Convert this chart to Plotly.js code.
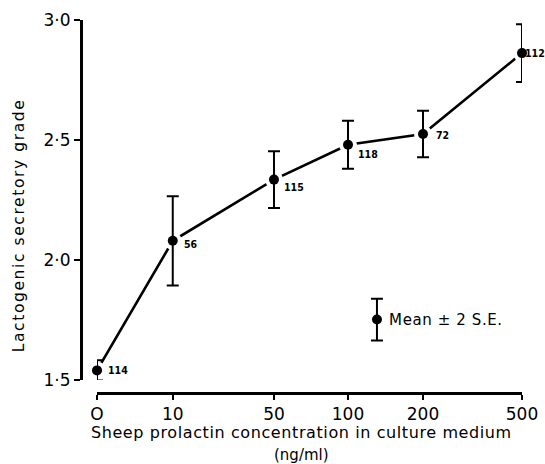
<!DOCTYPE html>
<html>
<head>
<meta charset="utf-8">
<script src="https://cdn.plot.ly/plotly-3.0.1.min.js"></script>
<style>
html,body{margin:0;padding:0;background:#fff}
#chart{width:545px;height:464px}
</style>
</head>
<body>
<div id="chart"></div>
<script>
// Data
const concLabels = ["O", "10", "50", "100", "200", "500"];      // ng/ml categories
const xSlot = [0, 1.01, 2.36, 3.347, 4.347, 5.667];              // irregular slot spacing of the drawn axis
const meanGrade = [1.54, 2.08, 2.335, 2.48, 2.525, 2.862];
const twoSE = [0.042, 0.186, 0.118, 0.1, 0.097, 0.12];
const nLabels = ["114", "56", "115", "118", "72", "112"];
const labelDx = [10, 10, 9, 9, 12, 2];
const labelDy = [0, -3, -7, -9, -1, 0];
const yTickVals = [1.5, 2.0, 2.5, 3.0];
const yTickText = ["1·5", "2·0", "2·5", "3·0"];
const keyX = [3.733];
const keyY = [1.752];
const keyErr = [0.087];

const FONT = "DejaVu Sans, Arial, sans-serif";
const COND = "DejaVu Sans Condensed, DejaVu Sans, Arial, sans-serif";
const traces = [
  {x: xSlot, y: meanGrade, mode: "lines", line: {color: "#000", width: 2.6}, hoverinfo: "skip", showlegend: false, cliponaxis: false},
  {x: xSlot, y: meanGrade, mode: "markers", marker: {color: "#fff", size: 18}, hoverinfo: "skip", showlegend: false, cliponaxis: false},
  {x: xSlot, y: meanGrade, mode: "markers", marker: {color: "#000", size: 10},
   error_y: {type: "data", array: twoSE, visible: true, color: "#000", thickness: 2, width: 6},
   showlegend: false, cliponaxis: false},
  {x: keyX, y: keyY, mode: "markers", marker: {color: "#000", size: 10},
   error_y: {type: "data", array: keyErr, visible: true, color: "#000", thickness: 2, width: 6},
   showlegend: false, cliponaxis: false}
];

const annotations = nLabels.map((t, i) => ({
  x: xSlot[i], y: meanGrade[i], xref: "x", yref: "y", text: t, showarrow: false,
  xanchor: "left", yanchor: "middle", xshift: labelDx[i], yshift: labelDy[i], borderpad: 0,
  font: {family: COND, size: 10.5, color: "#000", weight: "bold"}
}));
annotations.push(
  {x: keyX[0], y: keyY[0], xref: "x", yref: "y", text: "Mean ± 2 S.E.", showarrow: false,
   xanchor: "left", yanchor: "middle", xshift: 14, font: {family: FONT, size: 15}},
  {x: 0.501, y: -0.1046, xref: "paper", yref: "paper", text: "Sheep prolactin concentration in culture medium",
   showarrow: false, xanchor: "center", yanchor: "middle", font: {family: FONT, size: 16}},
  {x: 0.501, y: -0.166, xref: "paper", yref: "paper", text: "(ng/ml)",
   showarrow: false, xanchor: "center", yanchor: "middle", font: {family: FONT, size: 15}},
  {x: -0.1396, y: 0.4504, xref: "paper", yref: "paper", text: "Lactogenic secretory grade", textangle: -90,
   showarrow: false, xanchor: "center", yanchor: "middle", font: {family: FONT, size: 15.5}}
);

const layout = {
  width: 545, height: 464,
  margin: {l: 81, r: 23, t: 20, b: 71, pad: 0},
  paper_bgcolor: "#fff", plot_bgcolor: "#fff",
  font: {family: FONT, color: "#000"},
  xaxis: {
    domain: [16/441, 1], range: [0, xSlot[5]], anchor: "free", position: 0,
    showgrid: false, zeroline: false, showline: true, linecolor: "#000", linewidth: 2.5,
    ticks: "outside", ticklen: 5, tickwidth: 2, tickcolor: "#000",
    tickvals: xSlot, ticktext: concLabels, tickfont: {family: FONT, size: 17}
  },
  yaxis: {
    domain: [13/373, 1], range: [1.5, 3.0], anchor: "free", position: 0,
    showgrid: false, zeroline: false, showline: true, linecolor: "#000", linewidth: 2.5,
    ticks: "outside", ticklen: 6, tickwidth: 2, tickcolor: "#000",
    tickvals: yTickVals, ticktext: yTickText, tickfont: {family: FONT, size: 17}
  },
  annotations: annotations
};

Plotly.newPlot("chart", traces, layout, {displayModeBar: false, staticPlot: true}).then(() => {
  document.querySelectorAll("#chart .annotation-text").forEach(el => {
    const t = el.textContent;
    if (t.startsWith("Lacto")) el.style.letterSpacing = "1.6px";
    else if (t.startsWith("Sheep") || t.startsWith("Mean")) el.style.letterSpacing = "0.6px";
  });
});
</script>
</body>
</html>
